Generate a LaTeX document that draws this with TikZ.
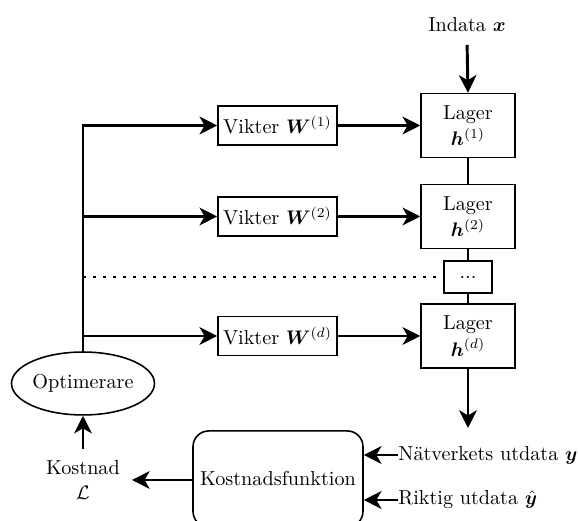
\documentclass[tikz,border=0pt]{standalone}
\usepackage{amsmath}
\usepackage{bm}
\usetikzlibrary{arrows.meta,shapes.geometric,calc}

\tikzset{
  every node/.style={font=\fontsize{10.3pt}{12.4pt}\selectfont},
  conn/.style={line width=1.5pt},
  arr/.style={line width=1.5pt,-{Stealth[length=9pt,width=9pt,inset=2.6pt]}},
  box/.style={draw,line width=0.8pt,inner sep=0pt,align=center},
  vbox/.style={box,minimum width=60.7pt,minimum height=19.9pt},
  lbox/.style={box,minimum width=47.9pt,minimum height=32.6pt},
}

\begin{document}
\begin{tikzpicture}[x=0.51pt,y=-0.51pt]
  \useasboundingbox (0,0) rectangle (578,521);

  % input
  \node (in) at (467,25) {Indata $\bm{x}$};

  % layers
  \node[lbox] (l1) at (468,125.5) {Lager\\[1pt]$\bm{h}^{(1)}$};
  \node[lbox] (l2) at (468,216.5) {Lager\\[1pt]$\bm{h}^{(2)}$};
  \node[box,minimum width=24.5pt,minimum height=16.3pt] (dots) at (468,277) {...};
  \node[lbox] (ld) at (468,336) {Lager\\[1pt]$\bm{h}^{(d)}$};

  % weights
  \node[vbox] (v1) at (277.5,125.5) {Vikter $\bm{W}^{(1)}$};
  \node[vbox] (v2) at (277.5,216.5) {Vikter $\bm{W}^{(2)}$};
  \node[vbox] (vd) at (277.5,336) {Vikter $\bm{W}^{(d)}$};

  % optimiser and cost
  \node[draw,ellipse,line width=0.8pt,minimum width=72.4pt,minimum height=32.1pt,inner sep=0pt] (opt) at (83,383.5) {Optimerare};
  \node[draw,rounded corners=8pt,line width=0.8pt,minimum width=86.7pt,minimum height=49pt,inner sep=0pt] (kf) at (278,479) {Kostnadsfunktion};
  \node[align=center,inner sep=6pt] (kost) at (83,480) {Kostnad\\$\mathcal{L}$};

  % outputs
  \node[anchor=west,inner sep=0pt] (ny) at (398,455) {Nätverkets utdata $\bm{y}$};
  \node[anchor=west,inner sep=0pt] (ry) at (398,500) {Riktig utdata $\hat{\bm{y}}$};
  \coordinate (out) at (468,428);

  % forward chain
  \draw[arr,shorten <=3pt] (in.south) -- (l1.north);
  \draw[conn] (l1.south) -- (l2.north);
  \draw[conn] (l2.south) -- (dots.north);
  \draw[conn] (dots.south) -- (ld.north);
  \draw[arr] (ld.south) -- (out);

  % weights into layers
  \draw[arr] (v1.east) -- (l1.west);
  \draw[arr] (v2.east) -- (l2.west);
  \draw[arr] (vd.east) -- (ld.west);

  % optimiser trunk and branches
  \coordinate (t1) at (opt.north |- v1.west);
  \coordinate (t2) at (opt.north |- v2.west);
  \coordinate (td) at (opt.north |- vd.west);
  \coordinate (tdots) at (opt.north |- dots.west);
  \draw[conn] (opt.north) -- ([yshift=0.75pt]t1);
  \draw[arr] (t1) -- (v1.west);
  \draw[arr] (t2) -- (v2.west);
  \draw[arr] (td) -- (vd.west);
  \draw[line width=1.5pt,dash pattern=on 1.5pt off 3.6pt] (tdots) -- (dots.west);

  % cost loop
  \draw[arr] (ny.west) -- (ny.west -| kf.east);
  \draw[arr] (ry.west) -- (ry.west -| kf.east);
  \draw[arr] (kf.west |- kost.east) -- (kost.east);
  \draw[arr] (kost.north) -- (opt.south);
\end{tikzpicture}
\end{document}
